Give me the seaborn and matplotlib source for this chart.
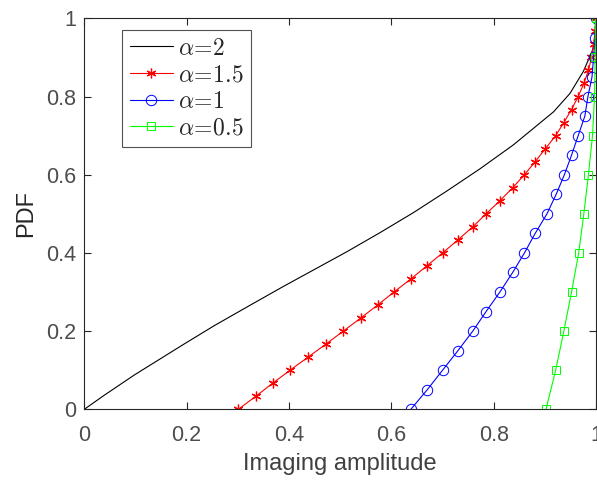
import matplotlib
matplotlib.use("Agg")
import matplotlib.pyplot as plt
import seaborn as sns

# ---- data ----
black_x = [0, 0.039, 0.098, 0.195, 0.254, 0.325, 0.39, 0.513, 0.578, 0.643, 0.708, 0.773,
           0.838, 0.917, 0.949, 0.975, 0.992, 1.0, 1.0]
black_y = [0, 0.036, 0.088, 0.167, 0.214, 0.267, 0.315, 0.403, 0.452, 0.503, 0.558, 0.615,
           0.676, 0.761, 0.808, 0.864, 0.915, 0.95, 1.0]

red_x = [0.301, 0.335, 0.368, 0.402, 0.437, 0.472, 0.506, 0.540, 0.573, 0.605, 0.638,
         0.669, 0.700, 0.730, 0.759, 0.785, 0.812, 0.837, 0.860, 0.881, 0.901, 0.921,
         0.937, 0.952, 0.965, 0.976, 0.985, 0.991, 0.995, 0.998, 0.999]
red_y = [0, 1/30, 2/30, 3/30, 4/30, 5/30, 6/30, 7/30, 8/30, 9/30, 10/30,
         11/30, 12/30, 13/30, 14/30, 15/30, 16/30, 17/30, 18/30, 19/30, 20/30, 21/30,
         22/30, 23/30, 24/30, 25/30, 26/30, 27/30, 28/30, 29/30, 1.0]

blue_x = [0.638, 0.670, 0.700, 0.730, 0.759, 0.785, 0.812, 0.837, 0.860, 0.881, 0.904,
          0.922, 0.938, 0.952, 0.965, 0.978, 0.984, 0.992, 0.995, 0.998, 0.999]
blue_y = [0, 0.05, 0.10, 0.15, 0.20, 0.25, 0.30, 0.35, 0.40, 0.45, 0.50,
          0.55, 0.60, 0.65, 0.70, 0.75, 0.80, 0.85, 0.90, 0.95, 1.0]

green_x = [0.902, 0.921, 0.937, 0.952, 0.966, 0.976, 0.985, 0.993, 0.997, 0.998, 0.999]
green_y = [0, 0.1, 0.2, 0.3, 0.4, 0.5, 0.6, 0.7, 0.8, 0.9, 1.0]

labels = [r'$\alpha\!=\!2$', r'$\alpha\!=\!1.5$', r'$\alpha\!=\!1$', r'$\alpha\!=\!0.5$']
xticks = [0, 0.2, 0.4, 0.6, 0.8, 1]
yticks = [0, 0.2, 0.4, 0.6, 0.8, 1]
ticklabels = ['0', '0.2', '0.4', '0.6', '0.8', '1']

sns.set_style("white")
plt.rcParams['font.family'] = ['Liberation Sans', 'DejaVu Sans']
plt.rcParams['mathtext.fontset'] = 'cm'

fig = plt.figure(figsize=(5.97, 4.82), dpi=100)
ax = fig.add_axes([0.1412, 0.1508, 0.8573, 0.8112])

lw = 0.8
sns.lineplot(x=black_x, y=black_y, ax=ax, sort=False, estimator=None, color='black',
             linewidth=lw, label=labels[0])
sns.lineplot(x=red_x, y=red_y, ax=ax, sort=False, estimator=None, color='red',
             linewidth=lw, marker=(6, 2, 0), markersize=7, markeredgewidth=0.9,
             markeredgecolor='red', markerfacecolor='red', label=labels[1])
sns.lineplot(x=blue_x, y=blue_y, ax=ax, sort=False, estimator=None, color='blue',
             linewidth=lw, marker='o', markersize=7.5, markeredgewidth=0.7,
             markeredgecolor='blue', markerfacecolor='none', label=labels[2])
sns.lineplot(x=green_x, y=green_y, ax=ax, sort=False, estimator=None, color='#00ff00',
             linewidth=lw, marker='s', markersize=5.5, markeredgewidth=0.7,
             markeredgecolor='#00ff00', markerfacecolor='none', label=labels[3])

ax.set_xlim(0, 1)
ax.set_ylim(0, 1)
ax.set_xticks(xticks)
ax.set_yticks(yticks)
ax.set_xticklabels(ticklabels)
ax.set_yticklabels(ticklabels)
ax.tick_params(direction='in', length=5, width=0.8, colors='#262626',
               labelcolor='#4d4d4d', labelsize=15.5, top=True, right=True,
               bottom=True, left=True)
ax.tick_params(axis='x', pad=11)
ax.tick_params(axis='y', pad=6)
for s in ax.spines.values():
    s.set_visible(True)
    s.set_color('#262626')
    s.set_linewidth(0.8)

ax.set_xlabel('Imaging amplitude', fontsize=17, color='#404040', labelpad=5)
ax.set_ylabel('PDF', fontsize=17, color='#262626', labelpad=6)

leg = ax.legend(loc='upper left', bbox_to_anchor=(0.0746, 0.969), fontsize=17,
                frameon=True, fancybox=False, edgecolor='#262626', handlelength=1.85,
                handletextpad=0.2, borderpad=0.3, labelspacing=0.2, borderaxespad=0)
leg.get_frame().set_linewidth(0.8)
for t in leg.get_texts():
    t.set_color('#262626')

fig.savefig('out.png', dpi=100)
